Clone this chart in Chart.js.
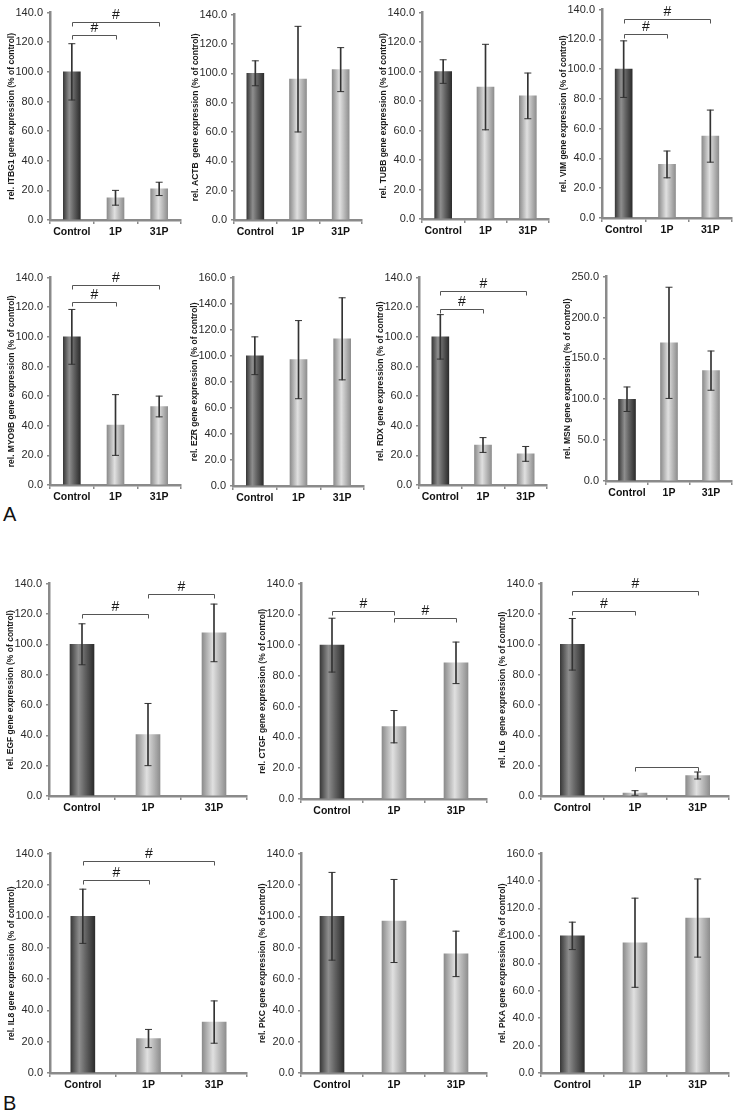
<!DOCTYPE html>
<html><head><meta charset="utf-8">
<script src="https://cdn.jsdelivr.net/npm/chart.js@4/dist/chart.umd.min.js"></script>
<style>
body{margin:0;background:#fff;width:738px;height:1113px;position:relative;overflow:hidden;font-family:"Liberation Sans",Arial,sans-serif}
canvas{position:absolute}
.lab{position:absolute;font-size:20px;line-height:1;color:#111}
</style></head><body>
<div class="lab" style="left:3px;top:504px">A</div>
<div class="lab" style="left:3px;top:1093px">B</div>
<script>
const categories = ['Control', '1P', '31P'];

const itbg1Mean = [100, 15, 21],     itbg1Err = [19, 5, 4.5];
const actbMean  = [100, 96, 102.5],  actbErr  = [8.5, 36, 15];
const tubbMean  = [100, 89.5, 83.5], tubbErr  = [8, 29, 15.5];
const vimMean   = [100, 36, 55],     vimErr   = [19, 9, 17.5];
const myo9bMean = [100, 40.5, 53],   myo9bErr = [18.5, 20.5, 7];
const ezrMean   = [100, 97, 113],    ezrErr   = [14.5, 30, 31.5];
const rdxMean   = [100, 27, 21],     rdxErr   = [15, 5, 5];
const msnMean   = [100, 169, 135],   msnErr   = [15, 68, 24];
const egfMean   = [100, 40.5, 107.5],egfErr   = [13.5, 20.5, 19];
const ctgfMean  = [100, 47, 88.5],   ctgfErr  = [17.5, 10.5, 13.5];
const il6Mean   = [100, 2, 13.5],    il6Err   = [17, 1.5, 2.3];
const il8Mean   = [100, 22, 32.5],   il8Err   = [17.3, 5.8, 13.5];
const pkcMean   = [100, 97, 76],     pkcErr   = [28, 26.5, 14.5];
const pkaMean   = [100, 95, 113],    pkaErr   = [10, 32.5, 28.5];

// significance brackets: [from index, to index, value, label]
const itbg1Brackets = [[0, 1, 125, '#'], [0, 2, 133.7, '#']];
const vimBrackets   = [[0, 1, 123.4, '#'], [0, 2, 133.4, '#']];
const myo9bBrackets = [[0, 1, 123.3, '#'], [0, 2, 135, '#']];
const rdxBrackets   = [[0, 1, 119, '#'], [0, 2, 130.7, '#']];
const egfBrackets   = [[0, 1, 120, '#'], [1, 2, 133, '#']];
const ctgfBrackets  = [[0, 1, 122, '#'], [1, 2, 117.5, '#']];
const il6Brackets   = [[0, 1, 121.7, '#'], [0, 2, 135.4, '#'], [1, 2, 19, '']];
const il8Brackets   = [[0, 1, 123, '#'], [0, 2, 135, '#']];

Chart.defaults.font.family = '"Liberation Sans", Arial, sans-serif';

const panels = [
  {title:'rel. ITBG1 gene expression (% of control)', mean:itbg1Mean, err:itbg1Err, brackets:itbg1Brackets, yMax:140, step:20, ax:50, top:10, bottom:220, right:182, barW:17},
  {title:'rel. ACTB  gene expression (% of control)', mean:actbMean, err:actbErr, brackets:[], yMax:140, step:20, ax:234, top:12, bottom:220, right:363, barW:17},
  {title:'rel. TUBB gene expression (% of control)', mean:tubbMean, err:tubbErr, brackets:[], yMax:140, step:20, ax:422, top:10, bottom:219, right:550, barW:17},
  {title:'rel. VIM gene expression (% of control)', mean:vimMean, err:vimErr, brackets:vimBrackets, yMax:140, step:20, ax:602, top:7, bottom:218, right:733, barW:17},
  {title:'rel. MYO9B gene expression (% of control)', mean:myo9bMean, err:myo9bErr, brackets:myo9bBrackets, yMax:140, step:20, ax:50, top:275, bottom:485, right:182, barW:17},
  {title:'rel. EZR gene expression (% of control)', mean:ezrMean, err:ezrErr, brackets:[], yMax:160, step:20, ax:233, top:275, bottom:486, right:365, barW:17},
  {title:'rel. RDX gene expression (% of control)', mean:rdxMean, err:rdxErr, brackets:rdxBrackets, yMax:140, step:20, ax:419, top:275, bottom:485, right:548, barW:17},
  {title:'rel. MSN gene expression (% of control)', mean:msnMean, err:msnErr, brackets:[], yMax:250, step:50, ax:606, top:274, bottom:481, right:733, barW:17},
  {title:'rel. EGF gene expression (% of control)', mean:egfMean, err:egfErr, brackets:egfBrackets, yMax:140, step:20, ax:49, top:581, bottom:796, right:248, barW:24},
  {title:'rel. CTGF gene expression (% of control)', mean:ctgfMean, err:ctgfErr, brackets:ctgfBrackets, yMax:140, step:20, ax:301, top:581, bottom:799, right:488, barW:24},
  {title:'rel. IL6  gene expression (% of control)', mean:il6Mean, err:il6Err, brackets:il6Brackets, yMax:140, step:20, ax:541, top:581, bottom:796, right:730, barW:24},
  {title:'rel. IL8 gene expression (% of control)', mean:il8Mean, err:il8Err, brackets:il8Brackets, yMax:140, step:20, ax:50, top:851, bottom:1073, right:248, barW:24},
  {title:'rel. PKC gene expression (% of control)', mean:pkcMean, err:pkcErr, brackets:[], yMax:140, step:20, ax:301, top:851, bottom:1073, right:488, barW:24},
  {title:'rel. PKA gene expression (% of control)', mean:pkaMean, err:pkaErr, brackets:[], yMax:160, step:20, ax:541, top:851, bottom:1073, right:730, barW:24}
];

const YW = 46, XH = 24, PT = 8, PR = 4;
const AXC = '#8a8a8a';

function grad(ctx, p) {
  const ch = ctx.chart, xs = ch.scales.x;
  if (!ch.chartArea || !xs) return '#999';
  const cx = xs.getPixelForValue(ctx.dataIndex), w = p.barW;
  const g = ch.ctx.createLinearGradient(cx - w / 2, 0, cx + w / 2, 0);
  if (ctx.dataIndex === 0) {
    g.addColorStop(0, '#3a3a3a'); g.addColorStop(0.35, '#8e8e8e');
    g.addColorStop(0.6, '#666666'); g.addColorStop(1, '#2c2c2c');
  } else {
    g.addColorStop(0, '#8c8c8c'); g.addColorStop(0.45, '#e0e0e0'); g.addColorStop(1, '#8e8e8e');
  }
  return g;
}

panels.forEach(p => {
  const c = document.createElement('canvas');
  const w = Math.round(p.right - p.ax + YW + PR), h = Math.round(p.bottom - p.top + PT + XH);
  c.width = w; c.height = h;
  c.style.left = (p.ax - YW) + 'px'; c.style.top = (p.top - PT) + 'px';
  c.style.width = w + 'px'; c.style.height = h + 'px';
  document.body.appendChild(c);

  const lows = p.mean.map((m, i) => m - p.err[i]);
  const highs = p.mean.map((m, i) => m + p.err[i]);

  const bracketPlugin = {
    id: 'brackets',
    afterDatasetsDraw(chart) {
      const xs = chart.scales.x, ys = chart.scales.y, g = chart.ctx;
      g.save();
      g.strokeStyle = '#555'; g.lineWidth = 1;
      p.brackets.forEach(([i, j, v, t]) => {
        const x1 = Math.round(xs.getPixelForValue(i)) + 0.5, x2 = Math.round(xs.getPixelForValue(j)) + 0.5;
        const y = Math.round(ys.getPixelForValue(v)) + 0.5;
        g.beginPath(); g.moveTo(x1, y + 4); g.lineTo(x1, y); g.lineTo(x2, y); g.lineTo(x2, y + 4); g.stroke();
        if (t) {
          g.fillStyle = '#1a1a1a'; g.font = '14px "Liberation Sans", Arial, sans-serif';
          g.textAlign = 'center'; g.textBaseline = 'bottom';
          g.fillText(t, (x1 + x2) / 2, y);
        }
      });
      g.restore();
    }
  };

  new Chart(c, {
    type: 'bar',
    data: {
      labels: categories,
      datasets: [
        {type:'bar', data:p.mean, barThickness:p.barW, grouped:false, backgroundColor:ctx => grad(ctx, p), borderWidth:0, order:3},
        {type:'bar', data:p.mean.map((m, i) => [lows[i], highs[i]]), barThickness:1, grouped:false, backgroundColor:'#333', borderWidth:0, order:2},
        {type:'line', data:lows, showLine:false, pointStyle:'line', pointRadius:3.5, pointBorderWidth:1, pointBorderColor:'#333', order:1},
        {type:'line', data:highs, showLine:false, pointStyle:'line', pointRadius:3.5, pointBorderWidth:1, pointBorderColor:'#333', order:0}
      ]
    },
    options: {
      responsive: false, animation: false, devicePixelRatio: 1,
      layout: {padding: {top: PT, right: PR, left: 0, bottom: 0}},
      plugins: {legend: {display: false}, tooltip: {enabled: false}},
      scales: {
        x: {
          type: 'category', offset: true,
          grid: {display: true, drawOnChartArea: false, drawTicks: true, tickLength: 4, color: AXC, lineWidth: 1.5, offset: true},
          border: {display: true, color: AXC, width: 2.5},
          ticks: {color: '#111', font: {size: 10.5, weight: 'bold'}, padding: 2, maxRotation: 0, autoSkip: false},
          afterFit(s) { s.height = XH; }
        },
        y: {
          min: 0, max: p.yMax,
          ticks: {stepSize: p.step, callback: v => v.toFixed(1), color: '#2a2a2a', font: {size: 11}, padding: 4},
          grid: {drawOnChartArea: false, drawTicks: true, tickLength: 3, color: AXC, lineWidth: 1.5},
          border: {display: true, color: AXC, width: 2.5},
          title: {display: true, text: p.title, font: {size: 8.5, weight: 'bold'}, color: '#1a1a1a', padding: {top: 3, bottom: 0}},
          afterFit(s) { s.width = YW; }
        }
      }
    },
    plugins: [bracketPlugin]
  });
});
</script></body></html>
